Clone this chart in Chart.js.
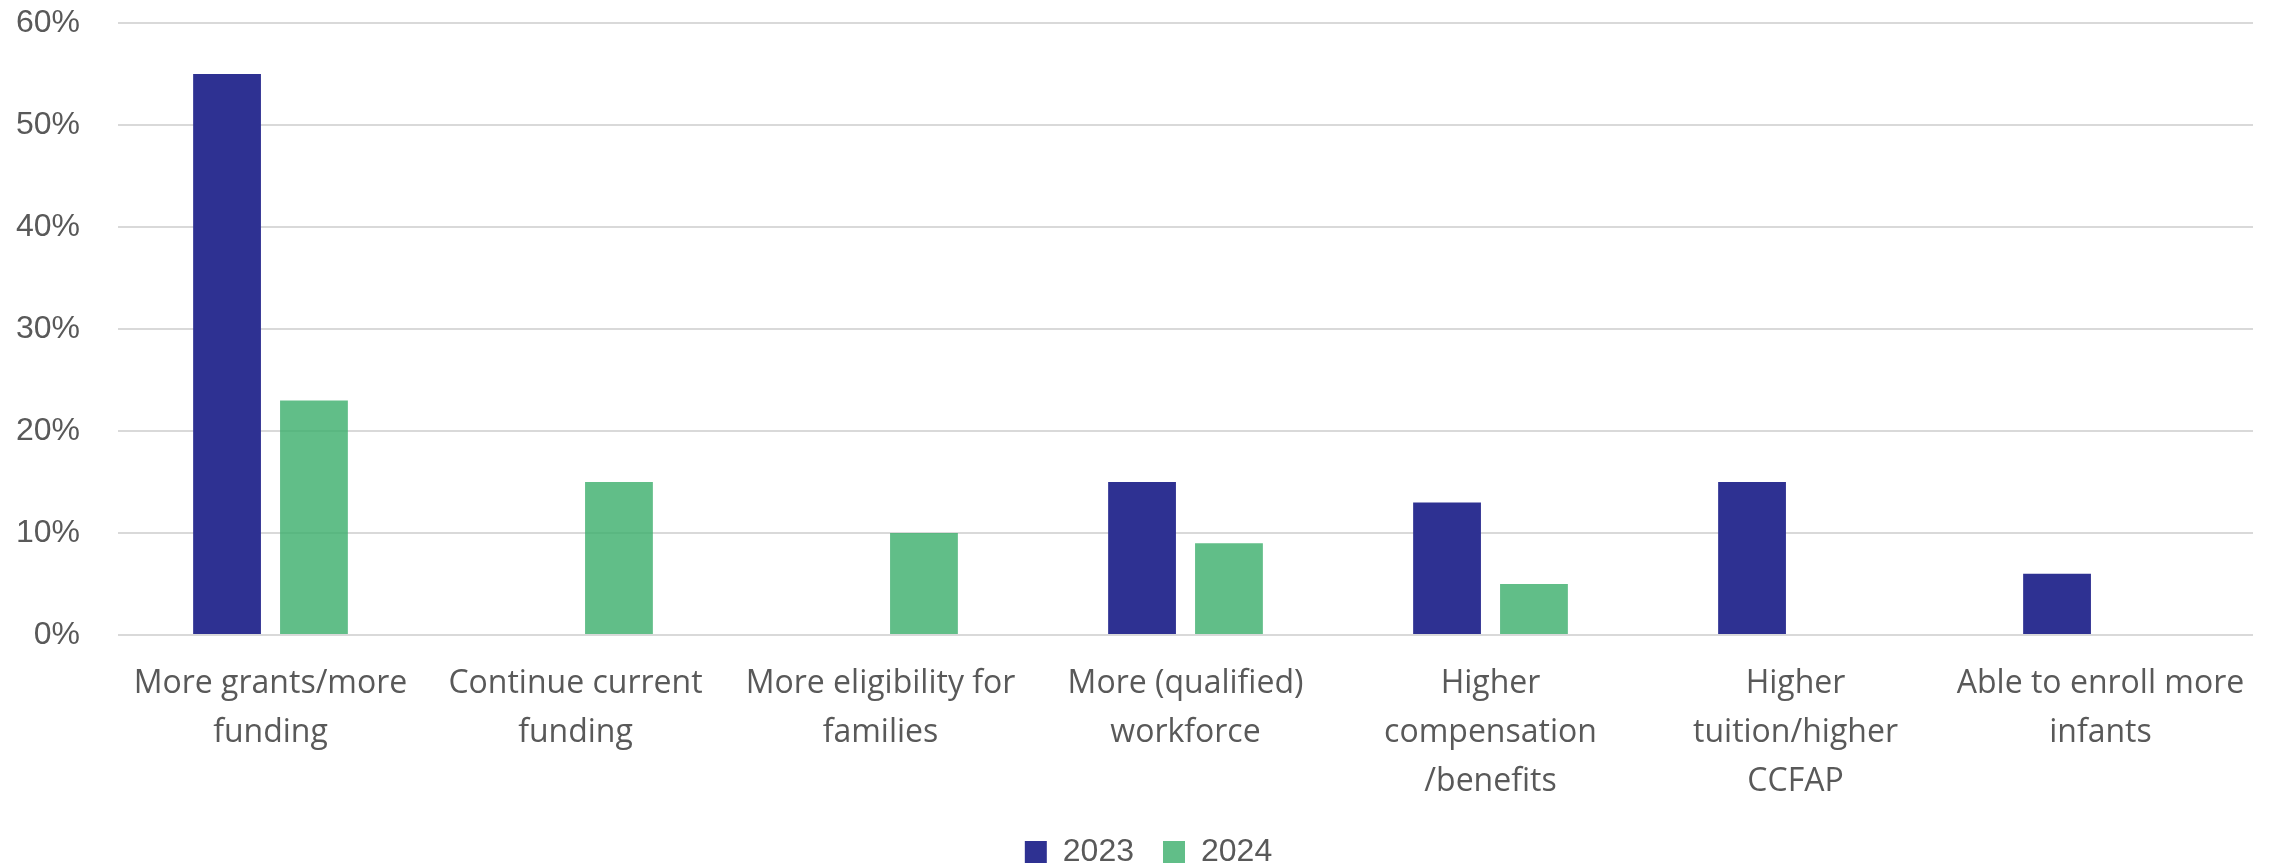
<!DOCTYPE html>
<html>
<head>
<meta charset="utf-8">
<title>Funding needs 2023 vs 2024</title>
<script src="https://cdn.jsdelivr.net/npm/chart.js@4/dist/chart.umd.min.js"></script>
<style>
  html, body { margin: 0; padding: 0; background: #fff; }
  canvas { display: block; }
</style>
</head>
<body>
<canvas id="myChart" width="2280" height="868"></canvas>
<script>
// categories (wrapped onto several lines)
const categories = [
    ["More grants/more", "funding"],
    ["Continue current", "funding"],
    ["More eligibility for", "families"],
    ["More (qualified)", "workforce"],
    ["Higher", "compensation", "/benefits"],
    ["Higher", "tuition/higher", "CCFAP"],
    ["Able to enroll more", "infants"]
];

// share of respondents, in percent
const values2023 = [55, null, null, 15, 13, 15, 6];
const values2024 = [23, 15, 10, 9, 5, null, null];

const yTicks = [0, 10, 20, 30, 40, 50, 60];

const textColor = "#595959";

// nudge the legend a little to the right, under the middle of the plot
const legendShift = {
    id: "legendShift",
    afterLayout(chart) {
        chart.legend.left += 22;
        chart.legend.right += 22;
    }
};

const ctx = document.getElementById("myChart").getContext("2d");

const myChart = new Chart(ctx, {
    type: "bar",
    data: {
        labels: categories,
        datasets: [{
            label: "2023",
            data: values2023,
            backgroundColor: "#2E3192"
        }, {
            label: "2024",
            data: values2024,
            backgroundColor: "rgba(58, 174, 106, 0.8)"
        }]
    },
    plugins: [legendShift],
    options: {
        responsive: false,
        animation: false,
        categoryPercentage: 0.57,
        barPercentage: 0.78,
        layout: {
            padding: { top: 23, right: 27, bottom: -10, left: 0 }
        },
        scales: {
            x: {
                afterFit: function(scale) {
                    scale.height = 172;
                },
                grid: { display: false, drawTicks: false },
                border: { display: false },
                ticks: {
                    color: textColor,
                    padding: 25,
                    maxRotation: 0,
                    autoSkip: false,
                    font: { family: "Open Sans", size: 32, lineHeight: 1.52 }
                }
            },
            y: {
                min: 0,
                max: 60,
                afterBuildTicks: function(scale) {
                    scale.ticks = yTicks.map(v => ({ value: v }));
                },
                afterFit: function(scale) {
                    scale.width = 118;
                    // tick padding is horizontal only, don't let it push the plot down
                    scale.paddingTop = 0;
                    scale.paddingBottom = 0;
                },
                grid: {
                    color: "#d9d9d9",
                    lineWidth: 2,
                    drawTicks: false
                },
                border: { display: false },
                ticks: {
                    color: textColor,
                    padding: 38,
                    font: { family: "Liberation Sans", size: 32 },
                    callback: v => v + "%"
                }
            }
        },
        plugins: {
            legend: {
                position: "bottom",
                labels: {
                    color: textColor,
                    boxWidth: 22,
                    boxHeight: 22,
                    padding: 29,
                    font: { family: "Liberation Sans", size: 32 }
                }
            },
            tooltip: { enabled: false }
        }
    }
});
</script>
</body>
</html>
